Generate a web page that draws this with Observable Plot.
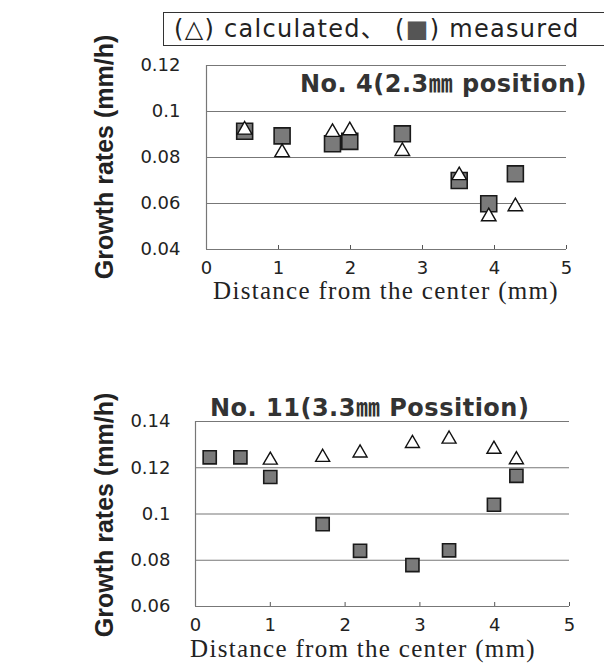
<!DOCTYPE html>
<html>
<head>
<meta charset="utf-8">
<script src="https://cdn.jsdelivr.net/npm/d3@7"></script>
<script src="https://cdn.jsdelivr.net/npm/@observablehq/plot@0.6"></script>
<style>
  html, body { margin: 0; padding: 0; background: #fff; }
  #page { position: relative; width: 604px; height: 664px; overflow: hidden; background: #fff; }
  .abs { position: absolute; white-space: nowrap; color: #222; }
  .legend { left: 163px; top: 12px; width: 460px; height: 34px; border: 1px solid #333; box-sizing: border-box;
            font-family: "DejaVu Sans", "Noto Sans CJK JP", sans-serif; font-size: 24px; letter-spacing: 1.3px;
            line-height: 32px; padding-left: 10px; }
  .title { font-family: "DejaVu Sans", "Noto Sans CJK JP", sans-serif; font-weight: bold; font-size: 24px; letter-spacing: 0.5px; color: #333; }
  .ylab { font-family: "Liberation Sans", Arial, sans-serif; font-weight: bold; font-size: 25px; transform: translate(-50%, -50%) rotate(-90deg); }
  .xlab { font-family: "Liberation Serif", "Times New Roman", serif; font-size: 25px; line-height: 26px; letter-spacing: 1.3px; transform: translate(-50%, -50%); }
  .chart { position: absolute; left: 0; }
</style>
</head>
<body>
<div id="page">
  <div class="abs legend">(△) calculated、 (<span style="color:#555">■</span>) measured</div>
  <div id="top" class="chart" style="top:0px"></div>
  <div id="bot" class="chart" style="top:330px"></div>
  <div class="abs title" style="left:300px; top:64px;">No. 4(2.3㎜ position)</div>
  <div class="abs title" style="left:210px; top:388px;">No. 11(3.3㎜ Possition)</div>
  <div class="abs ylab" style="left:104px; top:157px;">Growth rates (mm/h)</div>
  <div class="abs ylab" style="left:104px; top:515px;">Growth rates (mm/h)</div>
  <div class="abs xlab" style="left:386px; top:291px;">Distance from the center (mm)</div>
  <div class="abs xlab" style="left:363px; top:649px;">Distance from the center (mm)</div>
</div>
<script>
// ---- Data: No. 4 (2.3mm position)
const topX = [0.53, 1.05, 1.75, 1.99, 2.72, 3.51, 3.92, 4.29];
const topCalculated = [0.092, 0.0822, 0.091, 0.0917, 0.0827, 0.0722, 0.0543, 0.0587];
const topMeasured = [0.0914, 0.0894, 0.086, 0.087, 0.0903, 0.070, 0.0599, 0.0729];
const topYTicks = [0.04, 0.06, 0.08, 0.1, 0.12];
const topYLabels = ["0.04", "0.06", "0.08", "0.1", "0.12"];

// ---- Data: No. 11 (3.3mm position)
const botCalcX = [1.0, 1.7, 2.2, 2.9, 3.39, 3.99, 4.29];
const botCalculated = [0.1233, 0.1245, 0.1264, 0.1305, 0.1324, 0.128, 0.1235];
const botMeasX = [0.19, 0.6, 1.0, 1.7, 2.2, 2.9, 3.39, 3.99, 4.29];
const botMeasured = [0.1245, 0.1245, 0.116, 0.0956, 0.0841, 0.0779, 0.0843, 0.104, 0.1165];
const botYTicks = [0.06, 0.08, 0.1, 0.12, 0.14];
const botYLabels = ["0.06", "0.08", "0.1", "0.12", "0.14"];

const xTicks = [0, 1, 2, 3, 4, 5];
const xTickMarks = [1, 2, 3, 4, 5];

const topCalcData = topX.map((x, i) => ({x, y: topCalculated[i]}));
const topMeasData = topX.map((x, i) => ({x, y: topMeasured[i]}));
const botCalcData = botCalcX.map((x, i) => ({x, y: botCalculated[i]}));
const botMeasData = botMeasX.map((x, i) => ({x, y: botMeasured[i]}));

function chart({height, marginTop, marginBottom, marginLeft, marginRight, yDomain, yTicks, yLabels, yPad, xPad, calc, meas, sqR, triR}) {
  const frameH = height - marginTop - marginBottom;
  return Plot.plot({
    width: 604, height, marginTop, marginBottom, marginLeft, marginRight,
    style: {fontFamily: "DejaVu Sans, sans-serif", fontSize: "18px", color: "#222", background: "transparent"},
    x: {domain: [0, 5], ticks: xTicks, tickSize: 0, tickPadding: xPad, label: null, tickFormat: d => String(d)},
    y: {domain: yDomain, ticks: yTicks, tickSize: 0, tickPadding: yPad, label: null,
        tickFormat: d => yLabels[yTicks.findIndex(t => Math.abs(t - d) < 1e-9)]},
    marks: [
      Plot.ruleY(yTicks, {stroke: "#777", strokeWidth: 1.2}),
      Plot.ruleX([0], {stroke: "#777", strokeWidth: 1.2}),
      Plot.ruleX(xTickMarks, {stroke: "#555", strokeWidth: 1, insetTop: frameH - 4}),
      Plot.dot(meas, {x: "x", y: "y", symbol: "square", r: sqR, fill: "#7a7a7a", stroke: "#1a1a1a", strokeWidth: 1.6}),
      Plot.dot(calc, {x: "x", y: "y", symbol: "triangle", r: triR, fill: "#fff", stroke: "#111", strokeWidth: 1.4})
    ]
  });
}

document.getElementById("top").appendChild(chart({
  height: 320, marginTop: 65, marginBottom: 71, marginLeft: 206, marginRight: 38,
  yDomain: [0.04, 0.12], yTicks: topYTicks, yLabels: topYLabels, yPad: 26, xPad: 12,
  calc: topCalcData, meas: topMeasData, sqR: 9, triR: 5.4
}));
document.getElementById("bot").appendChild(chart({
  height: 334, marginTop: 91, marginBottom: 58, marginLeft: 195, marginRight: 35,
  yDomain: [0.06, 0.14], yTicks: botYTicks, yLabels: botYLabels, yPad: 25, xPad: 12,
  calc: botCalcData, meas: botMeasData, sqR: 7.4, triR: 5.2
}));
</script>
</body>
</html>
